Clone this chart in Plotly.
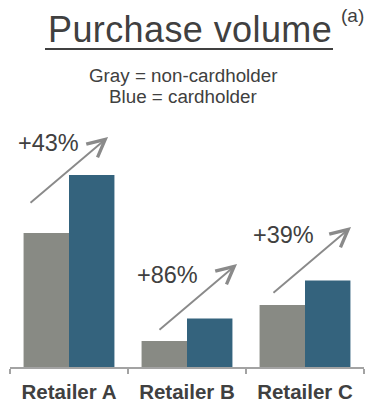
import plotly.graph_objects as go

# ---- data ----
retailers = ["Retailer A", "Retailer B", "Retailer C"]
non_cardholder = [134, 26, 62]
cardholder = [192, 48.5, 86.5]
growth_labels = ["+43%", "+86%", "+39%"]

W, H = 366, 402
ML, MR, MT, MB = 10, 2, 0, 35
PW, PH = W - ML - MR, H - MT - MB
YMAX = PH  # y axis range in value units

GRAY = "#888a84"
BLUE = "#34637d"
TXT = "#404040"
ARROW = "#8a8a8a"
FONT = "Liberation Sans, Arial, sans-serif"


def px_x(px):
    return (px - ML) / PW


def px_y(py):
    return (MT + PH - py) / PH


fig = go.Figure()
fig.add_trace(go.Bar(x=retailers, y=non_cardholder, name="non-cardholder",
                     marker=dict(color=GRAY, line=dict(width=0))))
fig.add_trace(go.Bar(x=retailers, y=cardholder, name="cardholder",
                     marker=dict(color=BLUE, line=dict(width=0))))

annotations = []
# growth arrows: relative placement per group (in category units / value units)
arrow_geom = [  # (tail dx, tail y, head dx, head y) offsets from category index
    (-0.339, 163, 0.331, 230),
    (-0.246, 36, 0.424, 103),
    (-0.280, 73, 0.390, 140),
]
label_geom = [(-0.174, 224), (-0.165, 92), (-0.186, 132)]
for i, lab in enumerate(growth_labels):
    tdx, ty, hdx, hy = arrow_geom[i]
    annotations.append(dict(
        x=i + hdx, y=hy, ax=i + tdx, ay=ty, xref="x", yref="y",
        axref="x", ayref="y", text="", showarrow=True,
        arrowhead=5, arrowsize=1.8, arrowwidth=1.9, arrowcolor=ARROW, standoff=0,
    ))
    ldx, ly = label_geom[i]
    annotations.append(dict(
        x=i + ldx, y=ly, xref="x", yref="y", showarrow=False,
        text=lab,
        font=dict(family=FONT, size=23.5, color=TXT),
        xanchor="center", yanchor="middle",
    ))

annotations += [
    dict(x=px_x(189.5), y=px_y(29.5), xref="paper", yref="paper", showarrow=False,
         text="<span style='letter-spacing:0.4px'>Purchase volume</span>",
         font=dict(family=FONT, size=36, color=TXT), xanchor="center", yanchor="middle"),
    dict(x=px_x(352.5), y=px_y(15), xref="paper", yref="paper", showarrow=False,
         text="(a)", font=dict(family=FONT, size=19, color=TXT),
         xanchor="center", yanchor="middle"),
    dict(x=px_x(183), y=px_y(75), xref="paper", yref="paper", showarrow=False,
         text="Gray = non-cardholder",
         font=dict(family=FONT, size=18.8, color=TXT), xanchor="center", yanchor="middle"),
    dict(x=px_x(183), y=px_y(96.5), xref="paper", yref="paper", showarrow=False,
         text="Blue = cardholder",
         font=dict(family=FONT, size=18.8, color=TXT), xanchor="center", yanchor="middle"),
]

shapes = [dict(type="line", xref="paper", yref="paper",
               x0=px_x(45), x1=px_x(333), y0=px_y(49), y1=px_y(49),
               line=dict(color=TXT, width=2))]

fig.update_layout(
    width=W, height=H,
    margin=dict(l=ML, r=MR, t=MT, b=MB, pad=0),
    paper_bgcolor="white", plot_bgcolor="white",
    barmode="group", bargap=0.23, bargroupgap=0,
    showlegend=False,
    annotations=annotations, shapes=shapes,
    xaxis=dict(type="category", showgrid=False, zeroline=False,
               showline=True, linecolor="#a3a3a3", linewidth=1.5,
               ticks="outside", tickson="boundaries", ticklen=5,
               tickcolor="#a3a3a3", tickwidth=1.5,
               ticklabelstandoff=6,
               tickfont=dict(family=FONT, size=20.5, color=TXT, weight="bold"),
               fixedrange=True),
    yaxis=dict(range=[0, YMAX], visible=False, fixedrange=True),
)

fig.write_html("out.html", config={"displayModeBar": False})
